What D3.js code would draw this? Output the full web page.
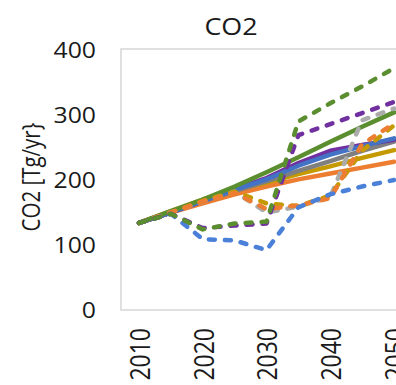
<!DOCTYPE html>
<html>
<head>
<meta charset="utf-8">
<script src="https://cdn.jsdelivr.net/npm/d3@7"></script>
<style>
  body { margin: 0; background: #fff; overflow: hidden; }
  text { font-family: "Open Sans", "Noto Sans", sans-serif; fill: #1a1a1a; }
</style>
</head>
<body>
<div class="co2chart"></div>
<script>
// data ============================================================ //
var years = [2010, 2015, 2020, 2025, 2030, 2035, 2040, 2045, 2050];
var yTicks = [0, 100, 200, 300, 400];

// solid scenarios
var greenSolid = [134, 152, 170, 190, 212, 235, 259, 282, 304];
var blueSolid = [134, 150, 168, 185, 201, 222, 239, 252, 264];
var purpleSolid = [134, 150, 168, 186, 203, 226, 245, 254, 262];
var graySolid = [134, 150, 167, 183, 198, 214, 229, 245, 259];
var goldSolid = [134, 152, 170, 185, 196, 209, 221, 234, 246];
var orangeSolid = [134, 150, 164, 178, 190, 201, 210, 219, 228];

// dashed scenarios
var grayDashed = [134, 150, 167, 182, 150, 159, 174, 292, 310];
var orangeDashed = [134, 150, 167, 180, 155, 161, 172, 255, 287];
var goldDashed = [134, 150, 168, 182, 164, 160, 176, 245, 284];
var blueDashed = [134, 148, 109, 107, 92, 158, 178, 190, 200];
var purpleDashed = [134, 148, 126, 130, 133, 269, 286, 303, 320];
var greenDashed = [134, 148, 124, 133, 136, 290, 318, 344, 372];

// drawing order, back to front
var series = [
  { values: orangeSolid, color: "#ED7D31", dashed: false },
  { values: goldSolid, color: "#C49A00", dashed: false },
  { values: graySolid, color: "#7F7F7F", dashed: false },
  { values: purpleSolid, color: "#7030A0", dashed: false },
  { values: blueSolid, color: "#4472C4", dashed: false },
  { values: greenSolid, color: "#5B8E2F", dashed: false },
  { values: grayDashed, color: "#ABABAB", dashed: true },
  { values: goldDashed, color: "#C49A00", dashed: true },
  { values: orangeDashed, color: "#ED7D31", dashed: true },
  { values: blueDashed, color: "#4A80D8", dashed: true },
  { values: purpleDashed, color: "#7030A0", dashed: true },
  { values: greenDashed, color: "#5B8E2F", dashed: true }
];

// chart =========================================================== //
function drawChart() {
  var svg = d3
    .select(".co2chart")
    .append("svg")
    .attr("width", 396)
    .attr("height", 385);

  // plot area (right side runs past the window, like the cropped original)
  var margin = { top: 50, left: 121, bottom: 310, right: 480 };

  var x = d3.scalePoint().domain(years).range([139, 394]);
  var y = d3.scaleLinear().domain([0, 400]).range([margin.bottom, margin.top]);

  // frame
  svg
    .append("rect")
    .attr("x", margin.left)
    .attr("y", y(400) - 1)
    .attr("width", margin.right - margin.left)
    .attr("height", y(0) - y(400) + 1)
    .attr("fill", "none")
    .attr("stroke", "#D6D6D6")
    .attr("stroke-width", 1.5);

  // title
  svg
    .append("text")
    .attr("transform", "translate(231,35) scale(1.12,1)")
    .attr("text-anchor", "middle")
    .attr("font-size", "24px")
    .text("CO2");

  // y tick labels
  svg
    .append("g")
    .selectAll("text")
    .data(yTicks)
    .enter()
    .append("text")
    .attr("transform", function (d) {
      return "translate(96," + y(d) + ") scale(1.18,1)";
    })
    .attr("text-anchor", "end")
    .attr("dominant-baseline", "central")
    .attr("font-size", "21px")
    .text(function (d) {
      return d;
    });

  // x tick labels, every 10 years
  svg
    .append("g")
    .selectAll("text")
    .data(years.filter(function (d) {
      return d % 10 == 0;
    }))
    .enter()
    .append("text")
    .attr("transform", function (d) {
      return "translate(" + x(d) + ",328) rotate(-90) scale(1,1.17)";
    })
    .attr("text-anchor", "end")
    .attr("dominant-baseline", "central")
    .attr("font-size", "23px")
    .text(function (d) {
      return d;
    });

  // y axis title
  svg
    .append("text")
    .attr("transform", "translate(31,177) rotate(-90) scale(1,1.2)")
    .attr("text-anchor", "middle")
    .attr("dominant-baseline", "central")
    .attr("font-size", "20.5px")
    .text("CO2 [Tg/yr}");

  // lines
  var line = d3
    .line()
    .x(function (d, i) {
      return x(years[i]);
    })
    .y(function (d) {
      return y(d);
    });

  svg
    .append("g")
    .selectAll("path")
    .data(series)
    .enter()
    .append("path")
    .attr("d", function (d) {
      return line(d.values);
    })
    .attr("fill", "none")
    .attr("stroke", function (d) {
      return d.color;
    })
    .attr("stroke-width", 4.5)
    .attr("stroke-linejoin", "round")
    .attr("stroke-linecap", "round")
    .attr("stroke-dasharray", function (d) {
      return d.dashed ? "6,10" : null;
    });
}

drawChart();
</script>
</body>
</html>
